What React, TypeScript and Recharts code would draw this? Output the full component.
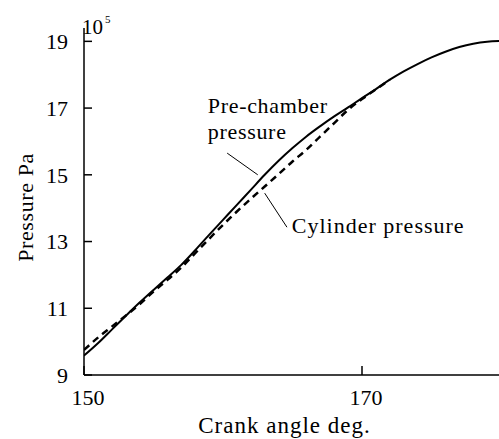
import React from 'react';
import { LineChart, Line, XAxis, YAxis, ReferenceLine, ReferenceDot, Label } from 'recharts';

const angles = [150, 151, 152, 153, 154, 155, 156, 157, 158, 159, 160, 161, 162, 163, 164, 165, 166, 167, 168, 169, 170, 171, 172, 173, 174, 175, 176, 177, 178, 179, 180];
const preChamber = [9.58, 9.95, 10.36, 10.77, 11.17, 11.55, 11.92, 12.3, 12.74, 13.2, 13.65, 14.1, 14.55, 15.0, 15.42, 15.8, 16.15, 16.46, 16.75, 17.02, 17.3, 17.57, 17.85, 18.1, 18.32, 18.52, 18.69, 18.83, 18.93, 18.99, 19.01];
const cylinder = [9.75, 10.12, 10.45, 10.78, 11.12, 11.5, 11.85, 12.22, 12.65, 13.08, 13.5, 13.9, 14.28, 14.65, 15.02, 15.4, 15.75, 16.15, 16.55, 16.95, 17.27, 17.56, 17.85];
const xTicks = [150, 170];
const yTicks = [9, 11, 13, 15, 17, 19];
const xDomain = [150, 180];
const yDomain = [9, 19.4];

const preLabelLines = ['Pre-chamber', 'pressure'];
const preLabelAt = { x: 158.9, y: 16.85 };
const preLeader = [{ x: 160.3, y: 15.65 }, { x: 162.5, y: 15.0 }];
const cylLabelText = 'Cylinder pressure';
const cylLabelAt = { x: 164.95, y: 13.26 };
const cylLeader = [{ x: 163.0, y: 14.45 }, { x: 164.6, y: 13.43 }];

const data = angles.map((a, i) => ({
  angle: a,
  pre: preChamber[i],
  cyl: i < cylinder.length ? cylinder[i] : undefined,
}));

const FONT = "'Liberation Serif', 'Times New Roman', serif";
const textStyle = { fontFamily: FONT, fontSize: 22, fill: '#000', letterSpacing: 1.0 };

export default function App() {
  return (
    <div style={{ position: 'absolute', left: 0, top: 0, width: 499, height: 439, overflow: 'hidden', background: '#fff' }}>
      <LineChart width={501} height={439} data={data} margin={{ top: 28, right: 0, bottom: 0, left: 0 }}>
        <XAxis
          dataKey="angle"
          type="number"
          domain={xDomain}
          ticks={xTicks}
          allowDataOverflow
          height={64}
          stroke="#000"
          strokeWidth={1.5}
          tickSize={-9}
          tickMargin={23}
          tick={{ fontFamily: FONT, fontSize: 22, fill: '#000', dx: 4 }}
        >
          <Label
            content={({ viewBox }: any) => (
              <text
                x={viewBox.x + viewBox.width / 2 - 8}
                y={viewBox.y + 58}
                textAnchor="middle"
                style={{ fontFamily: FONT, fontSize: 23, fill: '#000', letterSpacing: 1.0 }}
              >
                Crank angle deg.
              </text>
            )}
          />
        </XAxis>
        <YAxis
          type="number"
          domain={yDomain}
          ticks={yTicks}
          allowDataOverflow
          width={84}
          stroke="#000"
          strokeWidth={1.5}
          tickSize={-8}
          tickMargin={24}
          tick={{ fontFamily: FONT, fontSize: 22, fill: '#000' }}
        >
          <Label
            content={({ viewBox }: any) => {
              const cx = viewBox.x + 33;
              const cy = viewBox.y + viewBox.height / 2 + 6;
              return (
                <text
                  x={cx}
                  y={cy}
                  transform={`rotate(-90, ${cx}, ${cy})`}
                  textAnchor="middle"
                  style={{ fontFamily: FONT, fontSize: 22, fill: '#000', letterSpacing: 0.6 }}
                >
                  Pressure Pa
                </text>
              );
            }}
          />
          <Label
            content={({ viewBox }: any) => (
              <text x={viewBox.x + viewBox.width - 2} y={viewBox.y + 6} style={{ fontFamily: FONT, fontSize: 21, fill: '#000' }}>
                10
                <tspan fontSize={11} dy={-11} dx={2}>5</tspan>
              </text>
            )}
          />
        </YAxis>
        <ReferenceLine segment={preLeader} stroke="#000" strokeWidth={1} />
        <ReferenceLine segment={cylLeader} stroke="#000" strokeWidth={1} />
        <ReferenceDot
          x={preLabelAt.x}
          y={preLabelAt.y}
          r={1}
          fill="none"
          stroke="none"
          label={{
            content: ({ viewBox }: any) => {
              const x = viewBox.x + viewBox.width / 2;
              const y = viewBox.y + viewBox.height / 2;
              const st = { fontFamily: FONT, fontSize: 22, fill: '#000', letterSpacing: 0.7 };
              return (
                <g>
                  <text x={x} y={y} style={st}>{preLabelLines[0]}</text>
                  <text x={x} y={y + 26} style={st}>{preLabelLines[1]}</text>
                </g>
              );
            },
          }}
        />
        <ReferenceDot
          x={cylLabelAt.x}
          y={cylLabelAt.y}
          r={1}
          fill="none"
          stroke="none"
          label={{
            content: ({ viewBox }: any) => {
              const x = viewBox.x + viewBox.width / 2;
              const y = viewBox.y + viewBox.height / 2;
              return (
                <text x={x} y={y} style={textStyle}>
                  {cylLabelText}
                </text>
              );
            },
          }}
        />
        <Line
          type="monotone"
          dataKey="cyl"
          stroke="#000"
          strokeWidth={2.5}
          strokeDasharray="7 5"
          dot={false}
          activeDot={false}
          isAnimationActive={false}
        />
        <Line
          type="monotone"
          dataKey="pre"
          stroke="#000"
          strokeWidth={2}
          dot={false}
          activeDot={false}
          isAnimationActive={false}
        />
      </LineChart>
    </div>
  );
}
